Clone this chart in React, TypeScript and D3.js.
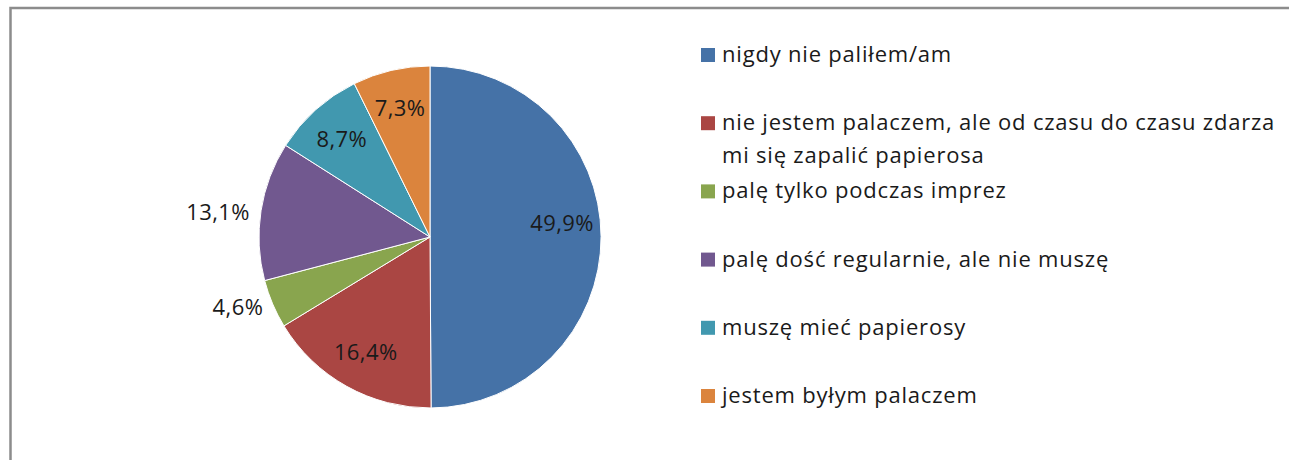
import * as d3 from 'd3';
import React from 'react';

const categories = [
  'nigdy nie paliłem/am',
  'nie jestem palaczem, ale od czasu do czasu zdarza mi się zapalić papierosa',
  'palę tylko podczas imprez',
  'palę dość regularnie, ale nie muszę',
  'muszę mieć papierosy',
  'jestem byłym palaczem',
];
const values = [49.9, 16.4, 4.6, 13.1, 8.7, 7.3];
const colors = ['#4572A7', '#AA4643', '#89A54E', '#71588F', '#4198AF', '#DB843D'];
// legend text split into lines as in the original
const legendLines = [
  ['nigdy nie paliłem/am'],
  ['nie jestem palaczem, ale od czasu do czasu zdarza', 'mi się zapalić papierosa'],
  ['palę tylko podczas imprez'],
  ['palę dość regularnie, ale nie muszę'],
  ['muszę mieć papierosy'],
  ['jestem byłym palaczem'],
];

const width = 1289;
const height = 460;
const cx = 430;
const cy = 237;
const R = 171;
const font = '"Open Sans", Lato, sans-serif';

const App = () => {
  const pie = d3.pie<number>().sort(null).value((d) => d);
  const arcs = pie(values);
  const arc = d3.arc<d3.PieArcDatum<number>>().innerRadius(0).outerRadius(R);
  const labelArc = d3.arc<d3.PieArcDatum<number>>().innerRadius(132).outerRadius(132);
  const fmt = (v: number) => d3.format('.1f')(v).replace('.', ',') + '%';

  // baseline of the first line of each legend entry
  const legendY = d3.scalePoint<number>()
    .domain(d3.range(categories.length))
    .range([62, 403]);

  return (
    <svg width={width} height={height} style={{ position: 'absolute', left: 0, top: 0, background: '#fff' }}>
      <rect x={10.5} y={8} width={1300} height={480} fill="#fff" stroke="#8c8c8c" strokeWidth={2.5} />
      <g transform={`translate(${cx},${cy})`}>
        {arcs.map((a, i) => (
          <path key={i} d={arc(a) || ''} fill={colors[i]} stroke="#fff" strokeWidth={1} />
        ))}
        {arcs.map((a, i) => {
          const mid = (a.startAngle + a.endAngle) / 2;
          const deg = (mid * 180) / Math.PI;
          const outside = deg > 225 && deg < 315;
          if (outside) {
            const y = -(R + 4) * Math.cos(mid) + 2;
            const x = -Math.sqrt(R * R - y * y) - 11;
            return (
              <text key={i} x={x} y={y} dy="0.36em" textAnchor="end" fontFamily={font} fontSize={22} letterSpacing={0.4} fill="#1a1a1a">
                {fmt(values[i])}
              </text>
            );
          }
          const [x, y] = labelArc.centroid(a);
          // the big half-slice label sits a little above the horizontal
          const ly = deg > 80 && deg < 100 ? y - 14 : y;
          return (
            <text key={i} x={x} y={ly} dy="0.36em" textAnchor="middle" fontFamily={font} fontSize={22} letterSpacing={0.4} fill="#1a1a1a">
              {fmt(values[i])}
            </text>
          );
        })}
      </g>
      <g>
        {categories.map((c, i) => {
          const y = legendY(i) as number;
          return (
            <g key={c}>
              <rect x={701} y={y - 14} width={14} height={14} fill={colors[i]} />
              {legendLines[i].map((line, j) => (
                <text key={j} x={722} y={y + j * 33} fontFamily={font} fontSize={22} letterSpacing={0.8} fill="#1a1a1a">
                  {line}
                </text>
              ))}
            </g>
          );
        })}
      </g>
    </svg>
  );
};

export default App;
